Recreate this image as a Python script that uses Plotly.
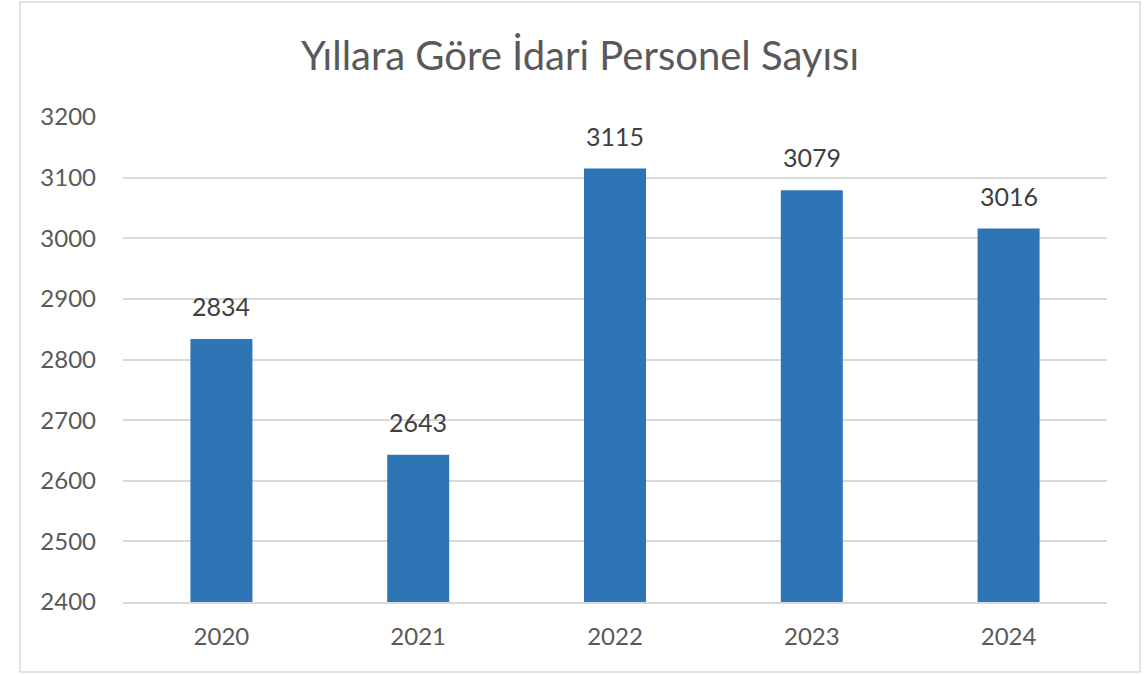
import plotly.graph_objects as go

years = ["2020", "2021", "2022", "2023", "2024"]
counts = [2834, 2643, 3115, 3079, 3016]
title_text = "Yıllara Göre İdari Personel Sayısı"
y_ticks = [2400, 2500, 2600, 2700, 2800, 2900, 3000, 3100, 3200]

FONT = "Lato"
BAR_COLOR = "#2E75B6"
GRID = "#D9D9D9"
TICK_COLOR = "#595959"

fig = go.Figure()
fig.add_trace(go.Bar(
    x=years, y=counts,
    marker=dict(color=BAR_COLOR, line=dict(width=0)),
    hoverinfo="x+y",
    showlegend=False,
))

for i, v in enumerate(counts):
    fig.add_annotation(
        x=i, y=v, text=str(v), showarrow=False,
        yanchor="bottom", yshift=16,
        font=dict(family=FONT, size=25, color="#404040"),
    )

fig.add_shape(
    type="rect", xref="paper", yref="paper",
    x0=(20 - 123) / 984, x1=(1140 - 123) / 984,
    y0=(602 - 672) / 485, y1=(602 - 2) / 485,
    line=dict(color=GRID, width=1.5), fillcolor="rgba(0,0,0,0)", layer="below",
)

fig.update_layout(
    width=1148, height=674,
    margin=dict(l=123, r=41, t=117, b=72, pad=0),
    paper_bgcolor="white", plot_bgcolor="white",
    bargap=0.685,
    title=dict(
        text=title_text, x=580 / 1148, xanchor="center",
        y=1 - 56 / 674, yanchor="middle", yref="container",
        font=dict(family=FONT, size=40, color=TICK_COLOR),
    ),
    font=dict(family=FONT, color=TICK_COLOR),
    xaxis=dict(
        type="category",
        range=[-0.5, len(years) - 0.5],
        showline=True, linecolor=GRID, linewidth=1.5,
        showgrid=False, ticks="",
        tickfont=dict(family=FONT, size=24, color=TICK_COLOR),
        ticklabelstandoff=12,
    ),
    yaxis=dict(
        range=[2400, 3200],
        tickvals=y_ticks,
        showgrid=True, gridcolor=GRID, gridwidth=1.5,
        zeroline=False, showline=False, ticks="",
        tickfont=dict(family=FONT, size=24, color=TICK_COLOR),
        ticklabelstandoff=26,
    ),
)

fig.write_html("out.html", config={"displayModeBar": False},
               post_script="document.body.style.margin='0';")
